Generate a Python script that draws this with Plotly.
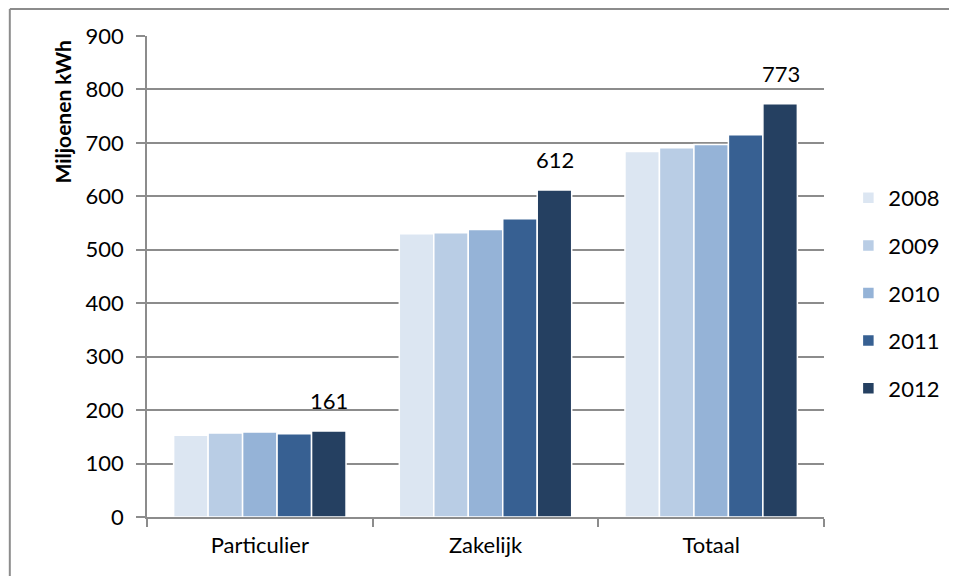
import plotly.graph_objects as go

categories = ['Particulier', 'Zakelijk', 'Totaal']
years = ['2008', '2009', '2010', '2011', '2012']
values = {
    '2008': [153, 530, 684],
    '2009': [157, 532, 691],
    '2010': [159, 538, 697],
    '2011': [156, 558, 715],
    '2012': [161, 612, 773],
}
colors = ['#DCE6F2', '#B9CDE5', '#95B3D7', '#376092', '#254061']
y_ticks = [0, 100, 200, 300, 400, 500, 600, 700, 800, 900]

FONT = 'Lato, Liberation Sans, sans-serif'
GRAY = '#8c8c8c'

# the page body has an 8px margin, so the figure is a bit smaller
W, H = 949, 568
ML, MR, MT, MB = 139, 129, 28, 59
pw = W - ML - MR
ph = H - MT - MB

fig = go.Figure()
for i, yr in enumerate(years):
    fig.add_trace(go.Bar(
        x=categories, y=values[yr], name=yr,
        marker=dict(color=colors[i], line=dict(color='white', width=1.5)),
        legendgroup=yr,
        hoverinfo='skip',
    ))

# value labels above the last year's bars
bar_px = 34.7
for cat, v in zip(categories, values['2012']):
    fig.add_annotation(
        x=cat, y=v, text=str(v), showarrow=False,
        xshift=2 * bar_px, yshift=15, yanchor='bottom',
        font=dict(size=22, color='black', family=FONT),
    )

# y axis title sits near the top like in Excel
fig.add_annotation(
    xref='paper', yref='paper', x=(62 - 147) / pw, y=(517 - 112) / ph,
    text='<b>Miljoenen kWh</b>', textangle=-90, showarrow=False,
    xanchor='center', yanchor='middle',
    font=dict(size=21, family=FONT, color='black'),
)

# outer chart border (left and top only visible)
bx = (1 - ML) / pw
by = 1 + (MT - 1) / ph
fig.add_shape(type='line', xref='paper', yref='paper',
              x0=bx, x1=bx, y0=-0.2, y1=by,
              line=dict(color=GRAY, width=2))
fig.add_shape(type='line', xref='paper', yref='paper',
              x0=bx, x1=1.3, y0=by, y1=by,
              line=dict(color=GRAY, width=2))

fig.update_xaxes(
    showline=True, linecolor=GRAY, linewidth=2,
    ticks='outside', tickson='boundaries', ticklen=8, tickcolor=GRAY, tickwidth=1.5,
    tickfont=dict(size=22, family=FONT, color='black'),
    ticklabelstandoff=8,
    showgrid=False,
)
fig.update_yaxes(
    range=[0, 900], tickvals=y_ticks,
    showline=True, linecolor=GRAY, linewidth=1.5,
    ticks='outside', ticklen=9, tickcolor=GRAY, tickwidth=1.5,
    showgrid=True, gridcolor=GRAY, gridwidth=1.5,
    zeroline=False,
    tickfont=dict(size=22, family=FONT, color='black'),
    ticklabelstandoff=8,
)

fig.update_layout(
    width=W, height=H,
    barmode='group', bargap=0.236, bargroupgap=0,
    plot_bgcolor='white', paper_bgcolor='white',
    margin=dict(l=ML, r=MR, t=MT, b=MB),
    font=dict(family=FONT, color='black'),
    legend=dict(
        x=1.036, y=(517 - 293) / ph, xanchor='left', yanchor='middle',
        font=dict(size=22, family=FONT, color='black'),
        traceorder='grouped', tracegroupgap=16,
        itemwidth=30,
    ),
)

fig.write_html("out.html")
